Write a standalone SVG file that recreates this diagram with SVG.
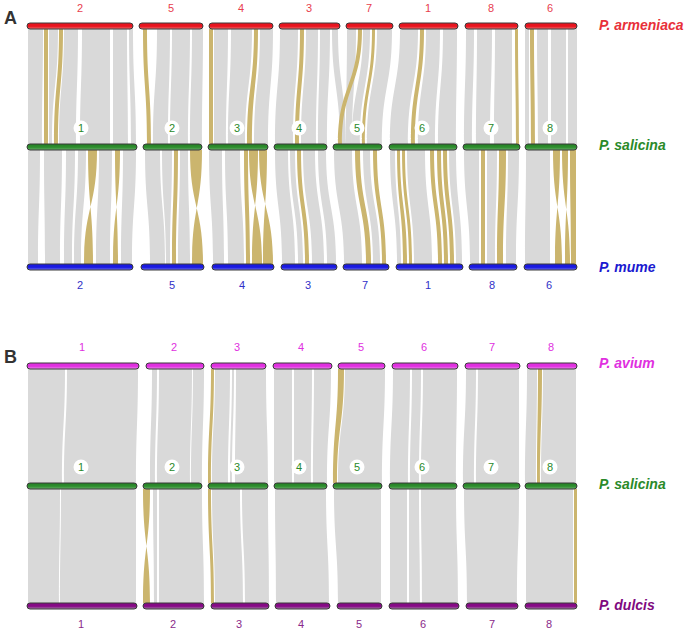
<svg xmlns="http://www.w3.org/2000/svg" width="693" height="632" viewBox="0 0 693 632">
<defs>
<linearGradient id="gRed" x1="0" y1="0" x2="0" y2="1"><stop offset="0" stop-color="#e8141e"/><stop offset="0.55" stop-color="#e8141e"/><stop offset="1" stop-color="#f27070"/></linearGradient>
<linearGradient id="gGreen" x1="0" y1="0" x2="0" y2="1"><stop offset="0" stop-color="#237f23"/><stop offset="0.55" stop-color="#2f8f2f"/><stop offset="1" stop-color="#6aae6a"/></linearGradient>
<linearGradient id="gBlue" x1="0" y1="0" x2="0" y2="1"><stop offset="0" stop-color="#1a1ae0"/><stop offset="0.55" stop-color="#1a1ae0"/><stop offset="1" stop-color="#7070f0"/></linearGradient>
<linearGradient id="gMag" x1="0" y1="0" x2="0" y2="1"><stop offset="0" stop-color="#e030e0"/><stop offset="0.55" stop-color="#e030e0"/><stop offset="1" stop-color="#f090f0"/></linearGradient>
<linearGradient id="gPur" x1="0" y1="0" x2="0" y2="1"><stop offset="0" stop-color="#860a86"/><stop offset="0.55" stop-color="#860a86"/><stop offset="1" stop-color="#a880a8"/></linearGradient>
</defs>
<style>
text{font-family:"Liberation Sans",Arial,sans-serif}
.bar{stroke:#3a3a3a;stroke-width:1}
.arm{fill:url(#gRed)}
.sal{fill:url(#gGreen)}
.mum{fill:url(#gBlue)}
.pav{fill:url(#gMag)}
.dul{fill:url(#gPur)}
.num{font-size:11px;text-anchor:middle}
.tR{fill:#e8404e}.tG{fill:#2a8a2a}.tB{fill:#3030c8}.tM{fill:#e030e0}.tP{fill:#8a2a8a}
.circ{fill:#ffffff}
.sp{font-size:14px;font-weight:bold;font-style:italic}
.pl{font-size:18px;font-weight:bold;fill:#333333}
.g{fill:#d9d9d9}
.y{fill:#cbb56e}
</style>
<rect width="693" height="632" fill="#ffffff"/>
<g id="connectors">
<g id="conn-A-top" transform="translate(0,29) scale(1,1.15)">
<path class="g" d="M28 0L43 0C43 50 42 50 42 100L28 100C28 50 28 50 28 0Z"/>
<path class="g" d="M49 0L58 0C58 50 52 50 52 100L49 100C49 50 49 50 49 0Z"/>
<path class="g" d="M64 0L78 0C78 50 76 50 76 100L59 100C59 50 64 50 64 0Z"/>
<path class="g" d="M82 0L110 0C110 50 110 50 110 100L80 100C80 50 82 50 82 0Z"/>
<path class="g" d="M113 0L127 0C127 50 128 50 128 100L113 100C113 50 113 50 113 0Z"/>
<path class="g" d="M129 0L133 0C133 50 136 50 136 100L131 100C131 50 129 50 129 0Z"/>
<path class="g" d="M157 0L170 0C170 50 168 50 168 100L153 100C153 50 157 50 157 0Z"/>
<path class="g" d="M172 0L190 0C190 50 188 50 188 100L170 100C170 50 172 50 172 0Z"/>
<path class="g" d="M192 0L203 0C203 50 202 50 202 100L190 100C190 50 192 50 192 0Z"/>
<path class="g" d="M214 0L228 0C228 50 226 50 226 100L214 100C214 50 214 50 214 0Z"/>
<path class="g" d="M231 0L252 0C252 50 245 50 245 100L228 100C228 50 231 50 231 0Z"/>
<path class="g" d="M260 0L273 0C273 50 268 50 268 100L254 100C254 50 260 50 260 0Z"/>
<path class="g" d="M280 0L298 0C298 50 293 50 293 100L275 100C275 50 280 50 280 0Z"/>
<path class="g" d="M306 0L318 0C318 50 316 50 316 100L301 100C301 50 306 50 306 0Z"/>
<path class="g" d="M320 0L330 0C330 50 327 50 327 100L318 100C318 50 320 50 320 0Z"/>
<path class="g" d="M332 0L338 0C338 50 346 50 346 100L340 100C340 50 332 50 332 0Z"/>
<path class="g" d="M347 0L356 0C356 50 352 50 352 100L346 100C346 50 347 50 347 0Z"/>
<path class="g" d="M363 0L370 0C370 50 360 50 360 100L352 100C352 50 363 50 363 0Z"/>
<path class="g" d="M377 0L392 0C392 50 382 50 382 100L367 100C367 50 377 50 377 0Z"/>
<path class="g" d="M400 0L418 0C418 50 408 50 408 100L390 100C390 50 400 50 400 0Z"/>
<path class="g" d="M426 0L440 0C440 50 435 50 435 100L418 100C418 50 426 50 426 0Z"/>
<path class="g" d="M443 0L457 0C457 50 456 50 456 100L438 100C438 50 443 50 443 0Z"/>
<path class="g" d="M466 0L474 0C474 50 472 50 472 100L464 100C464 50 466 50 466 0Z"/>
<path class="g" d="M477 0L492 0C492 50 490 50 490 100L476 100C476 50 477 50 477 0Z"/>
<path class="g" d="M495 0L512 0C512 50 512 50 512 100L494 100C494 50 495 50 495 0Z"/>
<path class="g" d="M525 0L529 0C529 50 529 50 529 100L525 100C525 50 525 50 525 0Z"/>
<path class="g" d="M537 0L548 0C548 50 548 50 548 100L538 100C538 50 537 50 537 0Z"/>
<path class="g" d="M551 0L566 0C566 50 566 50 566 100L551 100C551 50 551 50 551 0Z"/>
<path class="g" d="M568 0L577 0C577 50 577 50 577 100L568 100C568 50 568 50 568 0Z"/>
<path class="y" d="M44 0L48 0C48 50 48 50 48 100L44 100C44 50 44 50 44 0Z"/>
<path class="y" d="M59 0L63 0C63 50 58 50 58 100L54 100C54 50 59 50 59 0Z"/>
<path class="y" d="M143 0L147 0C147 50 151 50 151 100L147 100C147 50 143 50 143 0Z"/>
<path class="y" d="M209 0L213 0C213 50 213 50 213 100L209 100C209 50 209 50 209 0Z"/>
<path class="y" d="M254 0L258 0C258 50 252 50 252 100L247 100C247 50 254 50 254 0Z"/>
<path class="y" d="M300 0L304 0C304 50 299 50 299 100L295 100C295 50 300 50 300 0Z"/>
<path class="y" d="M358 0L362 0C362 50 342 50 342 100L338 100C338 50 358 50 358 0Z"/>
<path class="y" d="M372 0L375 0C375 50 365 50 365 100L362 100C362 50 372 50 372 0Z"/>
<path class="y" d="M420 0L424 0C424 50 415 50 415 100L411 100C411 50 420 50 420 0Z"/>
<path class="y" d="M515 0L518 0C518 50 519 50 519 100L516 100C516 50 515 50 515 0Z"/>
<path class="y" d="M530 0L534 0C534 50 535 50 535 100L531 100C531 50 530 50 530 0Z"/>
</g>
<g id="conn-A-bottom" transform="translate(0,150) scale(1,1.14)">
<path class="g" d="M28 0L40 0C40 50 38 50 38 100L28 100C28 50 28 50 28 0Z"/>
<path class="g" d="M44 0L62 0C62 50 60 50 60 100L45 100C45 50 44 50 44 0Z"/>
<path class="g" d="M66 0L75 0C75 50 72 50 72 100L64 100C64 50 66 50 66 0Z"/>
<path class="g" d="M78 0L86 0C86 50 81 50 81 100L74 100C74 50 78 50 78 0Z"/>
<path class="g" d="M99 0L112 0C112 50 110 50 110 100L96 100C96 50 99 50 99 0Z"/>
<path class="g" d="M123 0L136 0C136 50 132 50 132 100L121 100C121 50 123 50 123 0Z"/>
<path class="g" d="M145 0L160 0C160 50 165 50 165 100L150 100C150 50 145 50 145 0Z"/>
<path class="g" d="M162 0L172 0C172 50 170 50 170 100L166 100C166 50 162 50 162 0Z"/>
<path class="g" d="M180 0L188 0C188 50 190 50 190 100L178 100C178 50 180 50 180 0Z"/>
<path class="g" d="M209 0L222 0C222 50 224 50 224 100L213 100C213 50 209 50 209 0Z"/>
<path class="g" d="M225 0L240 0C240 50 244 50 244 100L228 100C228 50 225 50 225 0Z"/>
<path class="g" d="M275 0L288 0C288 50 295 50 295 100L282 100C282 50 275 50 275 0Z"/>
<path class="g" d="M290 0L295 0C295 50 303 50 303 100L298 100C298 50 290 50 290 0Z"/>
<path class="g" d="M303 0L315 0C315 50 324 50 324 100L312 100C312 50 303 50 303 0Z"/>
<path class="g" d="M318 0L326 0C326 50 336 50 336 100L327 100C327 50 318 50 318 0Z"/>
<path class="g" d="M334 0L352 0C352 50 362 50 362 100L344 100C344 50 334 50 334 0Z"/>
<path class="g" d="M363 0L370 0C370 50 380 50 380 100L373 100C373 50 363 50 363 0Z"/>
<path class="g" d="M390 0L395 0C395 50 401 50 401 100L397 100C397 50 390 50 390 0Z"/>
<path class="g" d="M407 0L425 0C425 50 432 50 432 100L414 100C414 50 407 50 407 0Z"/>
<path class="g" d="M449 0L456 0C456 50 462 50 462 100L456 100C456 50 449 50 449 0Z"/>
<path class="g" d="M464 0L479 0C479 50 479 50 479 100L470 100C470 50 464 50 464 0Z"/>
<path class="g" d="M487 0L497 0C497 50 495 50 495 100L487 100C487 50 487 50 487 0Z"/>
<path class="g" d="M508 0L519 0C519 50 516 50 516 100L506 100C506 50 508 50 508 0Z"/>
<path class="g" d="M526 0L550 0C550 50 550 50 550 100L525 100C525 50 526 50 526 0Z"/>
<path class="y" d="M174 0L178 0C178 50 176 50 176 100L172 100C172 50 174 50 174 0Z"/>
<path class="y" d="M244 0L248 0C248 50 250 50 250 100L246 100C246 50 244 50 244 0Z"/>
<path class="y" d="M297 0L301 0C301 50 309 50 309 100L305 100C305 50 297 50 297 0Z"/>
<path class="y" d="M355 0L360 0C360 50 371 50 371 100L366 100C366 50 355 50 355 0Z"/>
<path class="y" d="M373 0L377 0C377 50 386 50 386 100L382 100C382 50 373 50 373 0Z"/>
<path class="y" d="M397 0L400 0C400 50 407 50 407 100L403 100C403 50 397 50 397 0Z"/>
<path class="y" d="M402 0L405 0C405 50 412 50 412 100L409 100C409 50 402 50 402 0Z"/>
<path class="y" d="M430 0L434 0C434 50 442 50 442 100L438 100C438 50 430 50 430 0Z"/>
<path class="y" d="M437 0L441 0C441 50 448 50 448 100L444 100C444 50 437 50 437 0Z"/>
<path class="y" d="M443 0L447 0C447 50 454 50 454 100L450 100C450 50 443 50 443 0Z"/>
<path class="y" d="M481 0L485 0C485 50 485 50 485 100L481 100C481 50 481 50 481 0Z"/>
<path class="y" d="M499 0L506 0C506 50 503 50 503 100L497 100C497 50 499 50 499 0Z"/>
<path class="y" d="M570 0L576 0C576 50 576 50 576 100L571 100C571 50 570 50 570 0Z"/>
<path class="y" d="M88 0L97 0C97 50 84 50 84 100L93 100C93 50 88 50 88 0Z"/>
<path class="y" d="M115 0L120 0C120 50 113 50 113 100L118 100C118 50 115 50 115 0Z"/>
<path class="y" d="M190 0L202 0C202 50 192 50 192 100L203 100C203 50 190 50 190 0Z"/>
<path class="y" d="M249 0L258 0C258 50 252 50 252 100L262 100C262 50 249 50 249 0Z"/>
<path class="y" d="M259 0L267 0C267 50 263 50 263 100L273 100C273 50 259 50 259 0Z"/>
<path class="y" d="M553 0L560 0C560 50 555 50 555 100L562 100C562 50 553 50 553 0Z"/>
<path class="y" d="M562 0L568 0C568 50 565 50 565 100L570 100C570 50 562 50 562 0Z"/>
</g>
<g id="conn-B-top" transform="translate(0,369) scale(1,1.14)">
<path class="g" d="M28 0L65 0C65 50 62 50 62 100L28 100C28 50 28 50 28 0Z"/>
<path class="g" d="M67 0L138 0C138 50 136 50 136 100L64 100C64 50 67 50 67 0Z"/>
<path class="g" d="M152 0L157 0C157 50 155 50 155 100L150 100C150 50 152 50 152 0Z"/>
<path class="g" d="M159 0L192 0C192 50 190 50 190 100L157 100C157 50 159 50 159 0Z"/>
<path class="g" d="M193 0L204 0C204 50 202 50 202 100L191 100C191 50 193 50 193 0Z"/>
<path class="g" d="M215 0L230 0C230 50 228 50 228 100L212 100C212 50 215 50 215 0Z"/>
<path class="g" d="M232 0L234 0C234 50 232 50 232 100L230 100C230 50 232 50 232 0Z"/>
<path class="g" d="M236 0L266 0C266 50 268 50 268 100L235 100C235 50 236 50 236 0Z"/>
<path class="g" d="M274 0L292 0C292 50 292 50 292 100L274 100C274 50 274 50 274 0Z"/>
<path class="g" d="M294 0L312 0C312 50 311 50 311 100L294 100C294 50 294 50 294 0Z"/>
<path class="g" d="M314 0L331 0C331 50 327 50 327 100L313 100C313 50 314 50 314 0Z"/>
<path class="g" d="M345 0L385 0C385 50 382 50 382 100L338 100C338 50 345 50 345 0Z"/>
<path class="g" d="M393 0L410 0C410 50 408 50 408 100L390 100C390 50 393 50 393 0Z"/>
<path class="g" d="M412 0L421 0C421 50 419 50 419 100L410 100C410 50 412 50 412 0Z"/>
<path class="g" d="M423 0L457 0C457 50 456 50 456 100L421 100C421 50 423 50 423 0Z"/>
<path class="g" d="M466 0L476 0C476 50 474 50 474 100L463 100C463 50 466 50 466 0Z"/>
<path class="g" d="M478 0L519 0C519 50 519 50 519 100L476 100C476 50 478 50 478 0Z"/>
<path class="g" d="M527 0L537 0C537 50 536 50 536 100L525 100C525 50 527 50 527 0Z"/>
<path class="g" d="M543 0L576 0C576 50 576 50 576 100L541 100C541 50 543 50 543 0Z"/>
<path class="y" d="M211 0L214 0C214 50 211 50 211 100L208 100C208 50 211 50 211 0Z"/>
<path class="y" d="M338 0L344 0C344 50 337 50 337 100L333 100C333 50 338 50 338 0Z"/>
<path class="y" d="M538 0L542 0C542 50 540 50 540 100L537 100C537 50 538 50 538 0Z"/>
</g>
<g id="conn-B-bottom" transform="translate(0,489) scale(1,1.14)">
<path class="g" d="M28 0L60 0C60 50 59 50 59 100L28 100C28 50 28 50 28 0Z"/>
<path class="g" d="M61 0L136 0C136 50 136 50 136 100L60 100C60 50 61 50 61 0Z"/>
<path class="g" d="M153 0L157 0C157 50 157 50 157 100L154 100C154 50 153 50 153 0Z"/>
<path class="g" d="M159 0L202 0C202 50 204 50 204 100L159 100C159 50 159 50 159 0Z"/>
<path class="g" d="M212 0L240 0C240 50 243 50 243 100L215 100C215 50 212 50 212 0Z"/>
<path class="g" d="M242 0L268 0C268 50 269 50 269 100L245 100C245 50 242 50 242 0Z"/>
<path class="g" d="M275 0L326 0C326 50 329 50 329 100L276 100C276 50 275 50 275 0Z"/>
<path class="g" d="M334 0L381 0C381 50 381 50 381 100L338 100C338 50 334 50 334 0Z"/>
<path class="g" d="M390 0L407 0C407 50 407 50 407 100L390 100C390 50 390 50 390 0Z"/>
<path class="g" d="M409 0L419 0C419 50 420 50 420 100L409 100C409 50 409 50 409 0Z"/>
<path class="g" d="M421 0L456 0C456 50 458 50 458 100L422 100C422 50 421 50 421 0Z"/>
<path class="g" d="M464 0L519 0C519 50 517 50 517 100L467 100C467 50 464 50 464 0Z"/>
<path class="g" d="M526 0L573 0C573 50 573 50 573 100L526 100C526 50 526 50 526 0Z"/>
<path class="y" d="M208 0L211 0C211 50 214 50 214 100L211 100C211 50 208 50 208 0Z"/>
<path class="y" d="M574 0L577 0C577 50 577 50 577 100L574 100C574 50 574 50 574 0Z"/>
<path class="y" d="M143 0L150 0C150 50 143 50 143 100L150 100C150 50 143 50 143 0Z"/>
</g>
</g>
<text class="pl" x="4" y="24">A</text>
<text class="pl" x="4" y="363">B</text>
<g id="armeniaca">
<g id="arm-2"><rect class="bar arm" x="27" y="23" width="106" height="6" rx="3"/><text class="num tR" x="80" y="12">2</text></g>
<g id="arm-5"><rect class="bar arm" x="139" y="23" width="64" height="6" rx="3"/><text class="num tR" x="171" y="12">5</text></g>
<g id="arm-4"><rect class="bar arm" x="209" y="23" width="64" height="6" rx="3"/><text class="num tR" x="241" y="12">4</text></g>
<g id="arm-3"><rect class="bar arm" x="279" y="23" width="61" height="6" rx="3"/><text class="num tR" x="309" y="12">3</text></g>
<g id="arm-7"><rect class="bar arm" x="346" y="23" width="47" height="6" rx="3"/><text class="num tR" x="369" y="12">7</text></g>
<g id="arm-1"><rect class="bar arm" x="399" y="23" width="59" height="6" rx="3"/><text class="num tR" x="428" y="12">1</text></g>
<g id="arm-8"><rect class="bar arm" x="465" y="23" width="53" height="6" rx="3"/><text class="num tR" x="491" y="12">8</text></g>
<g id="arm-6"><rect class="bar arm" x="525" y="23" width="52" height="6" rx="3"/><text class="num tR" x="550" y="12">6</text></g>
<text class="sp tR" x="599" y="30" style="fill:#e8303a">P. armeniaca</text>
</g>
<g id="salicinaA">
<g id="salA-1"><rect class="bar sal" x="27" y="144" width="110" height="6" rx="3"/><circle class="circ" cx="81" cy="128" r="7.5"/><text class="num tG" x="81" y="132">1</text></g>
<g id="salA-2"><rect class="bar sal" x="143" y="144" width="59" height="6" rx="3"/><circle class="circ" cx="172" cy="128" r="7.5"/><text class="num tG" x="172" y="132">2</text></g>
<g id="salA-3"><rect class="bar sal" x="208" y="144" width="60" height="6" rx="3"/><circle class="circ" cx="237" cy="128" r="7.5"/><text class="num tG" x="237" y="132">3</text></g>
<g id="salA-4"><rect class="bar sal" x="274" y="144" width="53" height="6" rx="3"/><circle class="circ" cx="299" cy="128" r="7.5"/><text class="num tG" x="299" y="132">4</text></g>
<g id="salA-5"><rect class="bar sal" x="333" y="144" width="49" height="6" rx="3"/><circle class="circ" cx="357" cy="128" r="7.5"/><text class="num tG" x="357" y="132">5</text></g>
<g id="salA-6"><rect class="bar sal" x="389" y="144" width="68" height="6" rx="3"/><circle class="circ" cx="422" cy="128" r="7.5"/><text class="num tG" x="422" y="132">6</text></g>
<g id="salA-7"><rect class="bar sal" x="463" y="144" width="57" height="6" rx="3"/><circle class="circ" cx="491" cy="128" r="7.5"/><text class="num tG" x="491" y="132">7</text></g>
<g id="salA-8"><rect class="bar sal" x="525" y="144" width="52" height="6" rx="3"/><circle class="circ" cx="550" cy="128" r="7.5"/><text class="num tG" x="550" y="132">8</text></g>
<text class="sp tG" x="599" y="150">P. salicina</text>
</g>
<g id="mume">
<g id="mum-2"><rect class="bar mum" x="27" y="264" width="106" height="6" rx="3"/><text class="num tB" x="80" y="289">2</text></g>
<g id="mum-5"><rect class="bar mum" x="141" y="264" width="63" height="6" rx="3"/><text class="num tB" x="172" y="289">5</text></g>
<g id="mum-4"><rect class="bar mum" x="212" y="264" width="62" height="6" rx="3"/><text class="num tB" x="242" y="289">4</text></g>
<g id="mum-3"><rect class="bar mum" x="281" y="264" width="56" height="6" rx="3"/><text class="num tB" x="308" y="289">3</text></g>
<g id="mum-7"><rect class="bar mum" x="343" y="264" width="46" height="6" rx="3"/><text class="num tB" x="365" y="289">7</text></g>
<g id="mum-1"><rect class="bar mum" x="396" y="264" width="67" height="6" rx="3"/><text class="num tB" x="428" y="289">1</text></g>
<g id="mum-8"><rect class="bar mum" x="469" y="264" width="48" height="6" rx="3"/><text class="num tB" x="492" y="289">8</text></g>
<g id="mum-6"><rect class="bar mum" x="524" y="264" width="53" height="6" rx="3"/><text class="num tB" x="549" y="289">6</text></g>
<text class="sp" x="599" y="272" style="fill:#1a1ad0">P. mume</text>
</g>
<g id="avium">
<g id="pav-1"><rect class="bar pav" x="27" y="363" width="112" height="6" rx="3"/><text class="num tM" x="82" y="351">1</text></g>
<g id="pav-2"><rect class="bar pav" x="146" y="363" width="58" height="6" rx="3"/><text class="num tM" x="174" y="351">2</text></g>
<g id="pav-3"><rect class="bar pav" x="211" y="363" width="55" height="6" rx="3"/><text class="num tM" x="237" y="351">3</text></g>
<g id="pav-4"><rect class="bar pav" x="273" y="363" width="59" height="6" rx="3"/><text class="num tM" x="301" y="351">4</text></g>
<g id="pav-5"><rect class="bar pav" x="338" y="363" width="47" height="6" rx="3"/><text class="num tM" x="361" y="351">5</text></g>
<g id="pav-6"><rect class="bar pav" x="392" y="363" width="66" height="6" rx="3"/><text class="num tM" x="424" y="351">6</text></g>
<g id="pav-7"><rect class="bar pav" x="465" y="363" width="55" height="6" rx="3"/><text class="num tM" x="492" y="351">7</text></g>
<g id="pav-8"><rect class="bar pav" x="527" y="363" width="50" height="6" rx="3"/><text class="num tM" x="551" y="351">8</text></g>
<text class="sp tM" x="599" y="368">P. avium</text>
</g>
<g id="salicinaB">
<g id="salB-1"><rect class="bar sal" x="27" y="483" width="110" height="6" rx="3"/><circle class="circ" cx="81" cy="467" r="7.5"/><text class="num tG" x="81" y="471">1</text></g>
<g id="salB-2"><rect class="bar sal" x="143" y="483" width="59" height="6" rx="3"/><circle class="circ" cx="172" cy="467" r="7.5"/><text class="num tG" x="172" y="471">2</text></g>
<g id="salB-3"><rect class="bar sal" x="208" y="483" width="60" height="6" rx="3"/><circle class="circ" cx="237" cy="467" r="7.5"/><text class="num tG" x="237" y="471">3</text></g>
<g id="salB-4"><rect class="bar sal" x="274" y="483" width="53" height="6" rx="3"/><circle class="circ" cx="299" cy="467" r="7.5"/><text class="num tG" x="299" y="471">4</text></g>
<g id="salB-5"><rect class="bar sal" x="333" y="483" width="49" height="6" rx="3"/><circle class="circ" cx="357" cy="467" r="7.5"/><text class="num tG" x="357" y="471">5</text></g>
<g id="salB-6"><rect class="bar sal" x="389" y="483" width="68" height="6" rx="3"/><circle class="circ" cx="422" cy="467" r="7.5"/><text class="num tG" x="422" y="471">6</text></g>
<g id="salB-7"><rect class="bar sal" x="463" y="483" width="57" height="6" rx="3"/><circle class="circ" cx="491" cy="467" r="7.5"/><text class="num tG" x="491" y="471">7</text></g>
<g id="salB-8"><rect class="bar sal" x="525" y="483" width="52" height="6" rx="3"/><circle class="circ" cx="550" cy="467" r="7.5"/><text class="num tG" x="550" y="471">8</text></g>
<text class="sp tG" x="599" y="489">P. salicina</text>
</g>
<g id="dulcis">
<g id="dul-1"><rect class="bar dul" x="27" y="603" width="110" height="6" rx="3"/><text class="num tP" x="81" y="628">1</text></g>
<g id="dul-2"><rect class="bar dul" x="143" y="603" width="61" height="6" rx="3"/><text class="num tP" x="173" y="628">2</text></g>
<g id="dul-3"><rect class="bar dul" x="211" y="603" width="58" height="6" rx="3"/><text class="num tP" x="239" y="628">3</text></g>
<g id="dul-4"><rect class="bar dul" x="275" y="603" width="55" height="6" rx="3"/><text class="num tP" x="301" y="628">4</text></g>
<g id="dul-5"><rect class="bar dul" x="337" y="603" width="45" height="6" rx="3"/><text class="num tP" x="359" y="628">5</text></g>
<g id="dul-6"><rect class="bar dul" x="389" y="603" width="70" height="6" rx="3"/><text class="num tP" x="423" y="628">6</text></g>
<g id="dul-7"><rect class="bar dul" x="466" y="603" width="52" height="6" rx="3"/><text class="num tP" x="492" y="628">7</text></g>
<g id="dul-8"><rect class="bar dul" x="525" y="603" width="52" height="6" rx="3"/><text class="num tP" x="549" y="628">8</text></g>
<text class="sp" x="599" y="610" style="fill:#800a80">P. dulcis</text>
</g>
</svg>
